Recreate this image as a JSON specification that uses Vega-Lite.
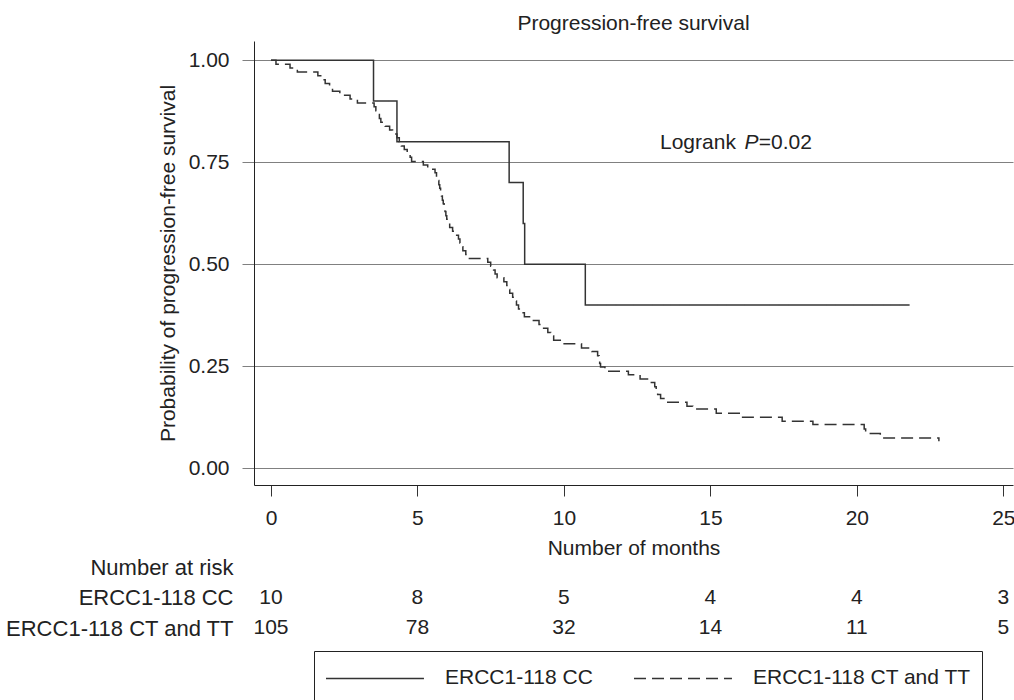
{
  "$schema": "https://vega.github.io/schema/vega-lite/v6.json",
  "background": "white",
  "padding": {"left": 4, "top": 13, "right": 0, "bottom": 0},
  "config": {
    "font": "Liberation Sans",
    "view": {"stroke": null},
    "axis": {"labelFont": "Liberation Sans", "titleFont": "Liberation Sans", "labelColor": "#222", "titleColor": "#222", "titleFontWeight": "normal"},
    "legend": {"labelFont": "Liberation Sans"},
    "title": {"font": "Liberation Sans", "fontWeight": "normal", "color": "#222"}
  },
  "datasets": {
    "km": [
      {"group": "ERCC1-118 CC", "t": 0, "s": 1.0},
      {"group": "ERCC1-118 CC", "t": 3.5, "s": 0.9},
      {"group": "ERCC1-118 CC", "t": 4.3, "s": 0.8},
      {"group": "ERCC1-118 CC", "t": 8.13, "s": 0.7},
      {"group": "ERCC1-118 CC", "t": 8.61, "s": 0.6},
      {"group": "ERCC1-118 CC", "t": 8.66, "s": 0.5},
      {"group": "ERCC1-118 CC", "t": 10.73, "s": 0.4},
      {"group": "ERCC1-118 CC", "t": 21.8, "s": 0.4},
      {"group": "ERCC1-118 CT and TT", "t": 0, "s": 1.0},
      {"group": "ERCC1-118 CT and TT", "t": 0.17, "s": 0.990},
      {"group": "ERCC1-118 CT and TT", "t": 0.65, "s": 0.981},
      {"group": "ERCC1-118 CT and TT", "t": 0.9, "s": 0.971},
      {"group": "ERCC1-118 CT and TT", "t": 1.6, "s": 0.962},
      {"group": "ERCC1-118 CT and TT", "t": 1.75, "s": 0.952},
      {"group": "ERCC1-118 CT and TT", "t": 1.85, "s": 0.943},
      {"group": "ERCC1-118 CT and TT", "t": 2.0, "s": 0.933},
      {"group": "ERCC1-118 CT and TT", "t": 2.1, "s": 0.924},
      {"group": "ERCC1-118 CT and TT", "t": 2.35, "s": 0.914},
      {"group": "ERCC1-118 CT and TT", "t": 2.7, "s": 0.905},
      {"group": "ERCC1-118 CT and TT", "t": 2.95, "s": 0.895},
      {"group": "ERCC1-118 CT and TT", "t": 3.52, "s": 0.886},
      {"group": "ERCC1-118 CT and TT", "t": 3.58, "s": 0.876},
      {"group": "ERCC1-118 CT and TT", "t": 3.64, "s": 0.867},
      {"group": "ERCC1-118 CT and TT", "t": 3.7, "s": 0.857},
      {"group": "ERCC1-118 CT and TT", "t": 3.75, "s": 0.848},
      {"group": "ERCC1-118 CT and TT", "t": 3.9, "s": 0.838},
      {"group": "ERCC1-118 CT and TT", "t": 4.05, "s": 0.829},
      {"group": "ERCC1-118 CT and TT", "t": 4.15, "s": 0.819},
      {"group": "ERCC1-118 CT and TT", "t": 4.3, "s": 0.810},
      {"group": "ERCC1-118 CT and TT", "t": 4.38, "s": 0.800},
      {"group": "ERCC1-118 CT and TT", "t": 4.45, "s": 0.790},
      {"group": "ERCC1-118 CT and TT", "t": 4.55, "s": 0.781},
      {"group": "ERCC1-118 CT and TT", "t": 4.65, "s": 0.771},
      {"group": "ERCC1-118 CT and TT", "t": 4.75, "s": 0.762},
      {"group": "ERCC1-118 CT and TT", "t": 4.8, "s": 0.752},
      {"group": "ERCC1-118 CT and TT", "t": 5.2, "s": 0.743},
      {"group": "ERCC1-118 CT and TT", "t": 5.35, "s": 0.733},
      {"group": "ERCC1-118 CT and TT", "t": 5.6, "s": 0.724},
      {"group": "ERCC1-118 CT and TT", "t": 5.65, "s": 0.714},
      {"group": "ERCC1-118 CT and TT", "t": 5.7, "s": 0.705},
      {"group": "ERCC1-118 CT and TT", "t": 5.73, "s": 0.695},
      {"group": "ERCC1-118 CT and TT", "t": 5.76, "s": 0.686},
      {"group": "ERCC1-118 CT and TT", "t": 5.79, "s": 0.676},
      {"group": "ERCC1-118 CT and TT", "t": 5.82, "s": 0.667},
      {"group": "ERCC1-118 CT and TT", "t": 5.85, "s": 0.657},
      {"group": "ERCC1-118 CT and TT", "t": 5.88, "s": 0.648},
      {"group": "ERCC1-118 CT and TT", "t": 5.91, "s": 0.638},
      {"group": "ERCC1-118 CT and TT", "t": 5.94, "s": 0.629},
      {"group": "ERCC1-118 CT and TT", "t": 5.97, "s": 0.619},
      {"group": "ERCC1-118 CT and TT", "t": 6.0, "s": 0.610},
      {"group": "ERCC1-118 CT and TT", "t": 6.05, "s": 0.600},
      {"group": "ERCC1-118 CT and TT", "t": 6.1, "s": 0.590},
      {"group": "ERCC1-118 CT and TT", "t": 6.2, "s": 0.581},
      {"group": "ERCC1-118 CT and TT", "t": 6.3, "s": 0.571},
      {"group": "ERCC1-118 CT and TT", "t": 6.4, "s": 0.562},
      {"group": "ERCC1-118 CT and TT", "t": 6.45, "s": 0.552},
      {"group": "ERCC1-118 CT and TT", "t": 6.5, "s": 0.543},
      {"group": "ERCC1-118 CT and TT", "t": 6.55, "s": 0.533},
      {"group": "ERCC1-118 CT and TT", "t": 6.65, "s": 0.524},
      {"group": "ERCC1-118 CT and TT", "t": 6.7, "s": 0.514},
      {"group": "ERCC1-118 CT and TT", "t": 7.4, "s": 0.505},
      {"group": "ERCC1-118 CT and TT", "t": 7.5, "s": 0.495},
      {"group": "ERCC1-118 CT and TT", "t": 7.6, "s": 0.486},
      {"group": "ERCC1-118 CT and TT", "t": 7.65, "s": 0.476},
      {"group": "ERCC1-118 CT and TT", "t": 7.72, "s": 0.467},
      {"group": "ERCC1-118 CT and TT", "t": 7.95, "s": 0.457},
      {"group": "ERCC1-118 CT and TT", "t": 8.05, "s": 0.448},
      {"group": "ERCC1-118 CT and TT", "t": 8.1, "s": 0.438},
      {"group": "ERCC1-118 CT and TT", "t": 8.15, "s": 0.429},
      {"group": "ERCC1-118 CT and TT", "t": 8.25, "s": 0.419},
      {"group": "ERCC1-118 CT and TT", "t": 8.3, "s": 0.410},
      {"group": "ERCC1-118 CT and TT", "t": 8.38, "s": 0.400},
      {"group": "ERCC1-118 CT and TT", "t": 8.45, "s": 0.390},
      {"group": "ERCC1-118 CT and TT", "t": 8.55, "s": 0.381},
      {"group": "ERCC1-118 CT and TT", "t": 8.65, "s": 0.371},
      {"group": "ERCC1-118 CT and TT", "t": 8.9, "s": 0.362},
      {"group": "ERCC1-118 CT and TT", "t": 9.15, "s": 0.352},
      {"group": "ERCC1-118 CT and TT", "t": 9.25, "s": 0.343},
      {"group": "ERCC1-118 CT and TT", "t": 9.45, "s": 0.333},
      {"group": "ERCC1-118 CT and TT", "t": 9.55, "s": 0.324},
      {"group": "ERCC1-118 CT and TT", "t": 9.65, "s": 0.314},
      {"group": "ERCC1-118 CT and TT", "t": 9.95, "s": 0.305},
      {"group": "ERCC1-118 CT and TT", "t": 10.6, "s": 0.295},
      {"group": "ERCC1-118 CT and TT", "t": 10.95, "s": 0.286},
      {"group": "ERCC1-118 CT and TT", "t": 11.15, "s": 0.276},
      {"group": "ERCC1-118 CT and TT", "t": 11.2, "s": 0.267},
      {"group": "ERCC1-118 CT and TT", "t": 11.22, "s": 0.257},
      {"group": "ERCC1-118 CT and TT", "t": 11.25, "s": 0.248},
      {"group": "ERCC1-118 CT and TT", "t": 11.4, "s": 0.238},
      {"group": "ERCC1-118 CT and TT", "t": 12.2, "s": 0.229},
      {"group": "ERCC1-118 CT and TT", "t": 12.6, "s": 0.219},
      {"group": "ERCC1-118 CT and TT", "t": 12.9, "s": 0.210},
      {"group": "ERCC1-118 CT and TT", "t": 13.1, "s": 0.200},
      {"group": "ERCC1-118 CT and TT", "t": 13.15, "s": 0.190},
      {"group": "ERCC1-118 CT and TT", "t": 13.2, "s": 0.181},
      {"group": "ERCC1-118 CT and TT", "t": 13.3, "s": 0.171},
      {"group": "ERCC1-118 CT and TT", "t": 13.45, "s": 0.162},
      {"group": "ERCC1-118 CT and TT", "t": 14.2, "s": 0.152},
      {"group": "ERCC1-118 CT and TT", "t": 14.4, "s": 0.145},
      {"group": "ERCC1-118 CT and TT", "t": 15.2, "s": 0.135},
      {"group": "ERCC1-118 CT and TT", "t": 16.1, "s": 0.125},
      {"group": "ERCC1-118 CT and TT", "t": 17.45, "s": 0.115},
      {"group": "ERCC1-118 CT and TT", "t": 18.5, "s": 0.107},
      {"group": "ERCC1-118 CT and TT", "t": 20.25, "s": 0.096},
      {"group": "ERCC1-118 CT and TT", "t": 20.3, "s": 0.085},
      {"group": "ERCC1-118 CT and TT", "t": 20.8, "s": 0.074},
      {"group": "ERCC1-118 CT and TT", "t": 22.8, "s": 0.066}
    ],
    "risk": [
      {"group": "ERCC1-118 CC", "t": 0, "n": 10},
      {"group": "ERCC1-118 CC", "t": 5, "n": 8},
      {"group": "ERCC1-118 CC", "t": 10, "n": 5},
      {"group": "ERCC1-118 CC", "t": 15, "n": 4},
      {"group": "ERCC1-118 CC", "t": 20, "n": 4},
      {"group": "ERCC1-118 CC", "t": 25, "n": 3},
      {"group": "ERCC1-118 CT and TT", "t": 0, "n": 105},
      {"group": "ERCC1-118 CT and TT", "t": 5, "n": 78},
      {"group": "ERCC1-118 CT and TT", "t": 10, "n": 32},
      {"group": "ERCC1-118 CT and TT", "t": 15, "n": 14},
      {"group": "ERCC1-118 CT and TT", "t": 20, "n": 11},
      {"group": "ERCC1-118 CT and TT", "t": 25, "n": 5}
    ],
    "note": [
      {"label": "Logrank", "t": 13.28, "s": 0.797},
      {"label": "P", "t": 16.16, "s": 0.797},
      {"label": "=0.02", "t": 16.65, "s": 0.797}
    ]
  },
  "bounds": "flush",
  "spacing": 67,
  "vconcat": [
    {
      "title": {"text": "Progression-free survival", "fontSize": 21, "anchor": "middle", "baseline": "alphabetic", "offset": -10},
      "width": 759,
      "height": 444,
      "layer": [
        {
          "data": {"name": "km"},
          "mark": {"type": "line", "interpolate": "step-after", "color": "#333", "strokeWidth": 1.5},
          "encoding": {
            "x": {"field": "t", "type": "quantitative",
              "scale": {"domain": [-0.58, 25.33], "nice": false, "zero": false},
              "axis": {"values": [0, 5, 10, 15, 20, 25], "grid": false, "tickSize": 11, "labelPadding": 11, "labelFontSize": 21, "title": "Number of months", "titleFontSize": 21, "titlePadding": 9, "domainColor": "#222", "tickColor": "#333", "labelFlush": false}},
            "y": {"field": "s", "type": "quantitative",
              "scale": {"domain": [-0.041, 1.047], "nice": false, "zero": false},
              "axis": {"values": [0, 0.25, 0.5, 0.75, 1], "format": ".2f", "grid": true, "gridColor": "#808080", "gridWidth": 1.2, "tickSize": 12, "tickColor": "#808080", "labelPadding": 13, "labelFontSize": 21, "title": "Probability of progression-free survival", "titleFontSize": 21, "titlePadding": 10, "domainColor": "#222", "labelFlush": false}},
            "strokeDash": {"field": "group", "type": "nominal",
              "scale": {"domain": ["ERCC1-118 CC", "ERCC1-118 CT and TT"], "range": [[1, 0], [12, 6]]},
              "legend": {"title": null, "orient": "none", "legendX": 60, "legendY": 610, "direction": "horizontal",
                "symbolType": "M-1,-0.95M-1,0H5.53M-1,0.95", "symbolSize": 900, "symbolStrokeWidth": 1.5, "symbolStrokeColor": "#333", "symbolFillColor": "transparent",
                "labelFontSize": 21, "labelColor": "#222", "labelOffset": 88, "columnPadding": 38, "padding": 11, "strokeColor": "#222", "fillColor": "white", "labelLimit": 400}}
          }
        },
        {
          "data": {"name": "note"},
          "transform": [{"filter": "datum.label != 'P'"}],
          "mark": {"type": "text", "align": "left", "baseline": "middle", "fontSize": 21, "color": "#222"},
          "encoding": {
            "x": {"field": "t", "type": "quantitative"},
            "y": {"field": "s", "type": "quantitative"},
            "text": {"field": "label"}
          }
        },
        {
          "data": {"name": "note"},
          "transform": [{"filter": "datum.label == 'P'"}],
          "mark": {"type": "text", "align": "left", "baseline": "middle", "fontSize": 21, "fontStyle": "italic", "color": "#222"},
          "encoding": {
            "x": {"field": "t", "type": "quantitative"},
            "y": {"field": "s", "type": "quantitative"},
            "text": {"field": "label"}
          }
        }
      ]
    },
    {
      "width": 759,
      "height": 91.5,
      "data": {"name": "risk"},
      "mark": {"type": "text", "align": "center", "baseline": "middle", "fontSize": 21, "color": "#222"},
      "encoding": {
        "x": {"field": "t", "type": "quantitative", "scale": {"domain": [-0.58, 25.33], "nice": false, "zero": false}, "axis": null},
        "y": {"field": "group", "type": "nominal",
          "scale": {"type": "point", "padding": 0.5, "domain": ["Number at risk", "ERCC1-118 CC", "ERCC1-118 CT and TT"]},
          "axis": {"title": null, "ticks": false, "domain": false, "labelPadding": 21, "labelFontSize": 22, "labelLimit": 400}},
        "text": {"field": "n"}
      }
    }
  ]
}
